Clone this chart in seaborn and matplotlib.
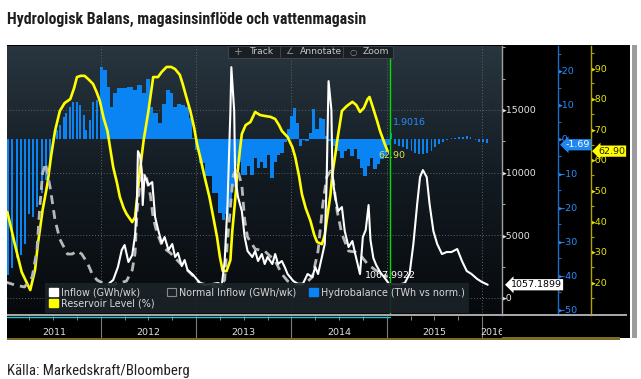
import numpy as np
import matplotlib
matplotlib.use("Agg")
import matplotlib.pyplot as plt
import seaborn as sns
from matplotlib.patches import Rectangle, Patch
from matplotlib.lines import Line2D
from matplotlib.colors import LinearSegmentedColormap
import matplotlib.transforms as mtrans
from matplotlib import font_manager

# ------------------------------------------------------------------ data
title = "Hydrologisk Balans, magasinsinflöde och vattenmagasin"
source = "Källa: Markedskraft/Bloomberg"
years = [2011, 2012, 2013, 2014, 2015, 2016]
inflow_ticks = [0, 5000, 10000, 15000]
hydro_ticks = [20, 10, 0, -10, -20, -30, -40, -50]
res_ticks = [90, 80, 70, 60, 50, 40, 30, 20]
legend_labels = ["Inflow (GWh/wk)", "Reservoir Level (%)",
                 "Normal Inflow (GWh/wk)", "Hydrobalance (TWh vs norm.)"]
toolbar_items = ["Track", "Annotate", "Zoom"]

res_t = [2011.02, 2011.10, 2011.17, 2011.26, 2011.31, 2011.34, 2011.39, 2011.44, 2011.48, 2011.52,
         2011.57, 2011.62, 2011.68, 2011.72, 2011.75, 2011.79, 2011.83, 2011.88, 2011.92, 2011.96,
         2011.99, 2012.03, 2012.07, 2012.10, 2012.13, 2012.17, 2012.20, 2012.24, 2012.27, 2012.33,
         2012.36, 2012.41, 2012.45, 2012.50, 2012.55, 2012.60, 2012.64, 2012.69, 2012.74, 2012.78,
         2012.83, 2012.86, 2012.90, 2012.94, 2012.98, 2013.01, 2013.05, 2013.09, 2013.14, 2013.18,
         2013.22, 2013.25, 2013.28, 2013.32, 2013.36, 2013.38, 2013.41, 2013.43, 2013.46, 2013.48,
         2013.52, 2013.57, 2013.62, 2013.67, 2013.72, 2013.78, 2013.83, 2013.87, 2013.90, 2013.96,
         2014.01, 2014.04, 2014.08, 2014.11, 2014.15, 2014.20, 2014.24, 2014.27, 2014.32, 2014.35,
         2014.37, 2014.41, 2014.43, 2014.46, 2014.48, 2014.51, 2014.53, 2014.58, 2014.64, 2014.68,
         2014.72, 2014.76, 2014.80, 2014.82, 2014.86, 2014.90, 2014.93, 2014.98, 2015.01]
res_v = [43.0, 32.2, 23.4, 17.5, 24.1, 32.5, 43.7, 52.2, 61.6, 69.5,
         76.0, 78.6, 79.9, 83.5, 87.1, 87.5, 87.5, 86.1, 84.8, 81.9,
         79.3, 73.7, 69.5, 63.6, 57.7, 52.5, 47.9, 44.3, 42.4, 39.7,
         41.4, 56.4, 66.5, 76.0, 87.1, 87.1, 88.8, 90.4, 90.4, 89.7,
         87.8, 84.8, 80.3, 76.0, 70.5, 65.2, 60.0, 54.4, 47.9, 41.4,
         34.8, 28.3, 23.7, 23.7, 27.3, 36.8, 46.9, 54.4, 63.3, 68.5,
         71.4, 72.4, 75.7, 74.7, 74.4, 74.1, 73.4, 71.4, 69.5, 67.5,
         64.2, 61.0, 54.8, 48.9, 44.3, 40.1, 35.5, 33.2, 32.5, 35.5,
         40.1, 48.6, 55.4, 61.6, 66.2, 72.1, 76.0, 77.6, 79.0, 78.0,
         75.7, 77.0, 79.9, 80.6, 76.7, 72.7, 69.5, 65.2, 62.9]

normal_t = [2011.00, 2011.10, 2011.20, 2011.28, 2011.33, 2011.36, 2011.39, 2011.42, 2011.47, 2011.52,
            2011.57, 2011.65, 2011.70, 2011.75, 2011.80, 2011.86, 2011.91, 2011.96, 2012.04, 2012.12,
            2012.20, 2012.27, 2012.33, 2012.36, 2012.38, 2012.41, 2012.44, 2012.48, 2012.52, 2012.55,
            2012.59, 2012.65, 2012.73, 2012.83, 2012.94, 2013.04, 2013.15, 2013.25, 2013.30, 2013.33,
            2013.36, 2013.39, 2013.43, 2013.48, 2013.51, 2013.54, 2013.62, 2013.72, 2013.83, 2013.90,
            2013.96, 2014.04, 2014.14, 2014.22, 2014.28, 2014.33, 2014.37, 2014.41, 2014.44, 2014.48,
            2014.53, 2014.60, 2014.67, 2014.74, 2014.80, 2014.88, 2014.95, 2015.01]
normal_v = [1275, 1036, 877, 1674, 3826, 7253, 9963, 10760, 8767, 6217,
            4702, 3507, 3507, 3746, 3507, 2790, 1913, 1435, 1116, 1036,
            1196, 1355, 2232, 3587, 6775, 9166, 9963, 9564, 8209, 6376,
            5181, 4065, 3587, 2790, 1993, 1196, 956, 877, 1435, 4623,
            7253, 9803, 10361, 9006, 6217, 4862, 3905, 3746, 2949, 1913,
            1355, 1116, 1116, 1674, 3746, 7492, 9644, 10122, 9325, 6934,
            5101, 3746, 3666, 3268, 2710, 2232, 1913, 1674]

inflow_t = [2012.08, 2012.13, 2012.18, 2012.22, 2012.25, 2012.29, 2012.33, 2012.36, 2012.38, 2012.39,
            2012.41, 2012.43, 2012.44, 2012.46, 2012.50, 2012.54, 2012.57, 2012.60, 2012.64, 2012.67,
            2012.71, 2012.75, 2012.78, 2012.81, 2012.85, 2012.88, 2012.91, 2012.97, 2013.04, 2013.09,
            2013.17, 2013.23, 2013.27, 2013.30, 2013.33, 2013.36, 2013.37, 2013.40, 2013.41, 2013.44,
            2013.48, 2013.51, 2013.54, 2013.59, 2013.62, 2013.65, 2013.69, 2013.72, 2013.75, 2013.80,
            2013.83, 2013.86, 2013.90, 2013.93, 2013.96, 2014.02, 2014.07, 2014.12, 2014.17, 2014.22,
            2014.25, 2014.28, 2014.32, 2014.35, 2014.37, 2014.39, 2014.42, 2014.43, 2014.44, 2014.46,
            2014.49, 2014.53, 2014.56, 2014.60, 2014.64, 2014.67, 2014.72, 2014.75, 2014.78, 2014.81,
            2014.83, 2014.86, 2014.89, 2014.93, 2014.98, 2015.03, 2015.09, 2015.12, 2015.19, 2015.24,
            2015.28, 2015.32, 2015.35, 2015.38, 2015.42, 2015.45, 2015.49, 2015.53, 2015.58, 2015.63,
            2015.68, 2015.74, 2015.79, 2015.84, 2015.89, 2015.95, 2016.00, 2016.06]
inflow_v = [1116, 1435, 2471, 3826, 4224, 2869, 3427, 5021, 7811, 11716,
            11397, 10202, 7412, 9803, 9006, 9245, 6456, 5499, 4384, 4862,
            3826, 4304, 3268, 3587, 2550, 3029, 2232, 1833, 1196, 1036,
            1116, 1196, 1036, 2949, 7492, 14904, 18411, 14904, 9644, 8050,
            6934, 4862, 3746, 3268, 3746, 2949, 3507, 2710, 3268, 2710,
            3507, 2710, 2949, 2471, 1913, 1355, 1116, 1116, 1913, 1674,
            2471, 1913, 3268, 4304, 9325, 17295, 14984, 10122, 9086, 8050,
            6934, 7253, 5340, 4065, 4543, 3507, 1913, 4862, 5420, 7412,
            4623, 3188, 2630, 2072, 1594, 1068, 1116, 1036, 1196, 1913,
            4304, 7492, 9644, 10202, 9644, 7492, 5340, 4304, 3507, 3666,
            3666, 3905, 2949, 2152, 1913, 1514, 1275, 1057]

hydro11_t = [2011.03, 2011.07, 2011.12, 2011.16, 2011.21, 2011.25, 2011.29, 2011.33, 2011.38, 2011.43,
             2011.47, 2011.54, 2011.57, 2011.61, 2011.64, 2011.68, 2011.71, 2011.75, 2011.78, 2011.82,
             2011.85, 2011.89, 2011.92, 2011.96]
hydro11_v = [-40, -38, -35, -34, -31, -22, -23, -20, -16, -12,
             -8, 2.6, 4.1, 6.5, 7.6, 9.4, 10.9, 10.9, 10.0, 7.0,
             2.6, 5.6, 10.9, 11.5]

hydro_t = [2012.01, 2012.04, 2012.08, 2012.11, 2012.15, 2012.20, 2012.25, 2012.31, 2012.36, 2012.41,
           2012.45, 2012.50, 2012.53, 2012.57, 2012.62, 2012.66, 2012.71, 2012.74, 2012.78, 2012.81,
           2012.87, 2012.90, 2012.94, 2012.97, 2013.01, 2013.06, 2013.13, 2013.20, 2013.25, 2013.29,
           2013.32, 2013.36, 2013.39, 2013.42, 2013.44, 2013.51, 2013.55, 2013.58, 2013.62, 2013.65,
           2013.69, 2013.72, 2013.76, 2013.79, 2013.83, 2013.86, 2013.90, 2013.93, 2013.97, 2014.00,
           2014.04, 2014.06, 2014.09, 2014.12, 2014.16, 2014.20, 2014.23, 2014.27, 2014.30, 2014.33,
           2014.37, 2014.40, 2014.46, 2014.49, 2014.53, 2014.56, 2014.60, 2014.63, 2014.67, 2014.70,
           2014.74, 2014.77, 2014.81, 2014.84, 2014.88, 2014.91, 2014.95, 2014.98, 2015.02]
hydro_v = [21.2, 20.3, 15.3, 9.4, 13.5, 15.0, 15.0, 15.3, 14.4, 15.9,
           13.5, 17.6, 9.4, 7.6, 4.7, 10.3, 14.4, 13.5, 9.4, 10.3,
           10.0, 9.4, 6.2, 0.3, -3.2, -7.0, -11.0, -16.0, -21.8, -23.8,
           -22.0, -19.4, -14.0, -8.0, -6.8, -10.6, -8.0, -10.6, -5.6, -8.5,
           -6.8, -8.5, -4.7, -11.5, -6.8, -4.7, -4.1, -0.9, 2.9, 6.7,
           9.1, 4.6, -2.0, -0.3, -0.6, 1.7, 8.8, 2.9, 6.2, 5.9,
           0.9, -0.6, -2.0, -3.5, -5.6, -3.5, -3.0, -5.0, -3.0, -6.0,
           -8.5, -11.0, -8.0, -5.6, -8.8, -7.3, -6.0, -5.0, -1.69]

hydro_fc_t = [2015.05, 2015.09, 2015.13, 2015.17, 2015.21, 2015.26, 2015.30, 2015.34, 2015.38, 2015.42,
              2015.47, 2015.51, 2015.55, 2015.59, 2015.63, 2015.68, 2015.72, 2015.76, 2015.80, 2015.84,
              2015.88, 2015.93, 2015.97, 2016.01, 2016.05]
hydro_fc_v = [1.90, -1.5, -2.0, -2.4, -3.0, -3.5, -4.0, -4.4, -4.4, -4.2,
              -3.5, -2.4, -1.5, -0.8, -0.4, 0.2, 0.4, 0.5, 0.6, 0.8,
              0.5, -0.3, -0.8, -1.0, -1.2]

today = 2015.04
last_inflow = 1057.1899
inflow_at_today = 1067.9922
last_hydro = -1.69
hydro_at_today = 1.9016
last_res = 62.90

# ------------------------------------------------------------------ helpers
W, H = 641, 379
def fx(p):
    return p / W
def fy(p):
    return 1 - p / H

names = {f.name for f in font_manager.fontManager.ttflist}
def pick(*cands):
    for c in cands:
        if c in names:
            return c
    return "DejaVu Sans"
narrow = pick("Liberation Sans Narrow", "Roboto Condensed", "Open Sans Condensed",
              "DejaVu Sans Condensed", "Roboto")

sns.set_style("white")
plt.rcParams["font.family"] = ["DejaVu Sans"]

BLUE = "#0a84f2"
YEL = "#ffff00"
X0, X1 = 2011.016, 2016.21

fig = plt.figure(figsize=(W / 100, H / 100), dpi=100)
fig.patch.set_facecolor("white")

# black chart panel + decorations
fig.add_artist(Rectangle((fx(7), fy(338)), fx(630) - fx(7), fy(45) - fy(338),
                         transform=fig.transFigure, fc="black", ec="none", zorder=-5))
fig.add_artist(Rectangle((fx(632), fy(338)), fx(637) - fx(632), fy(45) - fy(338),
                         transform=fig.transFigure, fc="#9c9c9c", ec="none", zorder=-4))
fig.add_artist(Rectangle((fx(7), fy(340)), fx(620) - fx(7), fy(337) - fy(340),
                         transform=fig.transFigure, fc="#7a6c22", ec="none", zorder=-4))

rect = [fx(7), fy(315), fx(502) - fx(7), fy(46) - fy(315)]
ax_h = fig.add_axes(rect)
ax_r = ax_h.twinx()
ax_in = ax_h.twinx()
ax_h.set_zorder(1)
ax_r.set_zorder(2)
ax_in.set_zorder(3)
for a in (ax_h, ax_r, ax_in):
    a.patch.set_visible(False)

# background gradient
cmap = LinearSegmentedColormap.from_list("bg", ["#070a0d", "#121a21", "#29363f"])
grad = np.linspace(0, 1, 256).reshape(-1, 1)
ax_h.imshow(grad, extent=[0, 1, 0, 1], transform=ax_h.transAxes, origin="lower",
            aspect="auto", cmap=cmap, zorder=0)

# grid
tr_in = mtrans.blended_transform_factory(ax_h.transAxes, ax_in.transData)
for v in inflow_ticks:
    ax_h.plot([0, 1], [v, v], transform=tr_in, color="#5c646b", lw=0.7,
              ls=(0, (1, 2)), zorder=1)
for y in years[1:]:
    ax_h.axvline(y, color="#5c646b", lw=0.7, ls=(0, (1, 2)), zorder=1)

# hydrobalance bars
ax_h.bar(hydro11_t, hydro11_v, width=0.021, color=BLUE, linewidth=0, zorder=2)
ht = np.array(hydro_t)
edges = np.concatenate([[ht[0] - (ht[1] - ht[0]) / 2], (ht[:-1] + ht[1:]) / 2, [ht[-1] + 0.01]])
ax_h.bar(edges[:-1], hydro_v, width=np.diff(edges) + 0.003, align="edge",
         color=BLUE, linewidth=0, zorder=2)
ax_h.bar(hydro_fc_t, hydro_fc_v, width=0.017, color=BLUE, linewidth=0, zorder=2)

# lines
sns.lineplot(x=res_t, y=res_v, ax=ax_r, color=YEL, linewidth=1.9, zorder=3)
sns.lineplot(x=normal_t, y=normal_v, ax=ax_in, color="#b8b8b8", linewidth=2.0,
             linestyle=(0, (3.2, 2.2)), zorder=3)
sns.lineplot(x=inflow_t, y=inflow_v, ax=ax_in, color="white", linewidth=1.5, zorder=4)
ax_in.axvline(today, color="#00e000", lw=1.0, zorder=6)

# axes styling
def style_axis(a, lim, ticks, minor, offset_px, spine_c, lab_c, fmt):
    a.set_xlim(X0, X1)
    a.set_ylim(*lim)
    a.yaxis.set_ticks_position("right")
    for s in ("left", "top", "bottom"):
        a.spines[s].set_visible(False)
    a.spines["right"].set_position(("outward", offset_px * 0.72))
    a.spines["right"].set_color(spine_c)
    a.spines["right"].set_linewidth(1.0)
    a.set_yticks(ticks)
    a.set_yticklabels(["\u25b8" + fmt(t) for t in ticks])
    a.set_yticks(minor, minor=True)
    a.tick_params(axis="y", which="major", length=0, pad=0.3, labelsize=6.8,
                  labelcolor=lab_c, left=False, labelleft=False, right=True, labelright=True)
    a.tick_params(axis="y", which="minor", length=2.5, width=0.8, color=spine_c,
                  left=False, right=True)
    a.tick_params(axis="x", which="both", bottom=False, top=False,
                  labelbottom=False, labeltop=False)
    a.set_xlabel("")
    a.set_ylabel("")

style_axis(ax_in, (-1356, 20096), inflow_ticks, [2500, 7500, 12500, 17500, 20000], 0,
           "#a0a0a0", "#e6e6e6", lambda t: f"{t}")
style_axis(ax_h, (-51.76, 27.35), hydro_ticks, [25, 15, 5, -5, -15, -25, -35, -45], 56,
           "#1d6cc4", "#2a8cff", lambda t: f"{t}")
style_axis(ax_r, (9.35, 97.25), res_ticks, [95, 85, 75, 65, 55, 45, 35, 25, 15], 89,
           "#b3a300", "#e8e800", lambda t: f"{t}")

# value tags on the axes
def tag(a, xpx, val, text, fc, tc):
    tr = mtrans.blended_transform_factory(fig.transFigure, a.transData)
    ax_in.text(fx(xpx), val, text, transform=tr, ha="left", va="center", fontsize=6.8,
               color=tc, zorder=30, clip_on=False,
               bbox=dict(boxstyle="larrow,pad=0.12", fc=fc, ec="none"))

tag(ax_in, 511, last_inflow, f"{last_inflow:.4f}", "white", "black")
tag(ax_h, 566, last_hydro, f"{last_hydro:.2f}", "#1e88f0", "white")
tag(ax_r, 598, last_res, f"{last_res:.2f}", YEL, "#222200")

# in-plot annotations at today
ax_in.annotate(f"{hydro_at_today:.4f}", xy=(today, hydro_at_today), xycoords=ax_h.transData,
               xytext=(1.5, 7), textcoords="offset points", ha="left", va="center",
               fontsize=6.8, color="#2a8cff", zorder=20)
ax_in.annotate(f"{last_res:.2f}", xy=(today, last_res), xycoords=ax_r.transData,
               xytext=(-9, -3), textcoords="offset points", ha="left", va="center",
               fontsize=6.8, color="#d6e34a", zorder=20)
ax_in.annotate(f"{inflow_at_today:.4f}", xy=(today, inflow_at_today), xycoords=ax_in.transData,
               xytext=(0, 6.3), textcoords="offset points", ha="center", va="center",
               fontsize=6.8, color="white", zorder=20)

# legend
handles = [Patch(fc="white", ec="white"), Patch(fc=YEL, ec=YEL),
           Patch(fc="#1a2026", ec="#8a8a8a", lw=0.8), Patch(fc=BLUE, ec=BLUE)]
leg = ax_in.legend(handles, legend_labels, ncol=3, loc="lower left",
                   bbox_to_anchor=(fx(45), fy(313)), bbox_transform=fig.transFigure,
                   frameon=True, fontsize=6.9, handlelength=0.9, handleheight=0.9,
                   handletextpad=0.35, columnspacing=1.3, borderpad=0.45,
                   labelspacing=0.12, borderaxespad=0, fancybox=False)
leg.get_frame().set_facecolor("#1b2228")
leg.get_frame().set_edgecolor("none")
leg.get_frame().set_alpha(0.92)
for t in leg.get_texts():
    t.set_color("#d8d8d8")
leg.set_zorder(25)

# x-axis band
ax_b = fig.add_axes([fx(7), fy(338), fx(502) - fx(7), fy(316) - fy(338)])
ax_b.set_zorder(4)
ax_b.set_facecolor("black")
ax_b.set_xlim(X0, X1)
ax_b.set_ylim(0, 1)
for s in ax_b.spines.values():
    s.set_visible(False)
ax_b.set_xticks([])
ax_b.set_yticks([])
ax_b.vlines(years[1:], 0, 1, color="#7c7c7c", lw=0.8)
quarters = [y + q for y in years for q in (0.25, 0.5, 0.75)]
ax_b.vlines(quarters, 0.82, 1.0, color="#8c8c8c", lw=0.7)
ax_b.plot([X0, today], [0.94, 0.94], color="#22c4d4", lw=1.0)
for y in years:
    c = (max(y, X0) + min(y + 1, X1)) / 2
    ax_b.text(c, 0.25, str(y), ha="center", va="center", fontsize=6.8,
              color="#e0e0e0", clip_on=True)

fig.add_artist(Rectangle((fx(7), fy(316.3)), fx(627) - fx(7), fy(314) - fy(316.3),
                         transform=fig.transFigure, fc="#a6a6a6", ec="none", zorder=10))

# toolbar
fig.add_artist(Rectangle((fx(228), fy(58)), fx(393) - fx(228), fy(46) - fy(58),
                         transform=fig.transFigure, fc="#1a1f24", ec="#454b52",
                         lw=0.6, zorder=10))
for xp in (280, 343):
    fig.add_artist(Line2D([fx(xp), fx(xp)], [fy(47), fy(57)], transform=fig.transFigure,
                          color="#454b52", lw=0.6, zorder=11))
tb_c = "#c4c8cc"
fig.text(fx(238), fy(52), "+", ha="center", va="center", fontsize=7.5, color="#8a9096", zorder=12)
fig.text(fx(250), fy(52), toolbar_items[0], ha="left", va="center", fontsize=6.6, color=tb_c, zorder=12)
fig.text(fx(289), fy(52), "\u2220", ha="center", va="center", fontsize=6.6, color="#8a9096", zorder=12)
fig.text(fx(300), fy(52), toolbar_items[1], ha="left", va="center", fontsize=6.6, color=tb_c, zorder=12)
fig.text(fx(353), fy(52), "\u25cb", ha="center", va="center", fontsize=6.0, color="#8a9096", zorder=12)
fig.text(fx(363), fy(52), toolbar_items[2], ha="left", va="center", fontsize=6.6, color=tb_c, zorder=12)

# title & source
fig.text(fx(7), fy(19), title, ha="left", va="center", fontsize=11.4, fontweight="bold",
         family=[narrow, "DejaVu Sans"], color="#1e1e1e")
fig.text(fx(7), fy(371), source, ha="left", va="center", fontsize=10.6,
         family=[narrow, "DejaVu Sans"], color="#222222")

fig.savefig("out.png", dpi=100)
